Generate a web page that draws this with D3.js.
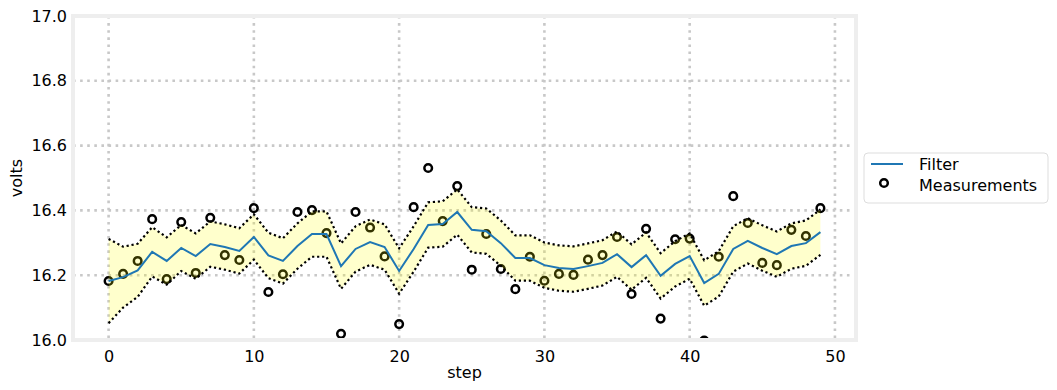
<!DOCTYPE html>
<html>
<head>
<meta charset="utf-8">
<script src="https://cdnjs.cloudflare.com/ajax/libs/d3/7.8.5/d3.min.js"></script>
<style>
    body { margin: 0; background: #fff; }
    text { font-family: "DejaVu Sans", sans-serif; fill: #000; }
</style>
</head>
<body>
<div id="chart"></div>
<script>
// measured voltage at each step
var measurements = [16.182, 16.204, 16.244, 16.373, 16.188, 16.364, 16.207, 16.377, 16.262, 16.247,
    16.407, 16.148, 16.203, 16.395, 16.401, 16.330, 16.019, 16.395, 16.347, 16.258,
    16.049, 16.410, 16.531, 16.367, 16.475, 16.217, 16.327, 16.219, 16.157, 16.257,
    16.183, 16.204, 16.201, 16.248, 16.262, 16.318, 16.142, 16.343, 16.066, 16.311,
    16.313, 15.998, 16.257, 16.444, 16.361, 16.238, 16.231, 16.340, 16.321, 16.407];
// filter estimate
var filterMean = [16.182, 16.194, 16.215, 16.272, 16.244, 16.284, 16.259, 16.296, 16.287, 16.275,
    16.318, 16.261, 16.244, 16.290, 16.327, 16.327, 16.228, 16.281, 16.302, 16.287,
    16.213, 16.281, 16.355, 16.358, 16.395, 16.340, 16.336, 16.299, 16.253, 16.253,
    16.231, 16.222, 16.219, 16.228, 16.238, 16.265, 16.225, 16.262, 16.198, 16.235,
    16.259, 16.176, 16.204, 16.281, 16.306, 16.284, 16.265, 16.290, 16.299, 16.333];
// standard deviation of the estimate
var filterStd = [0.130, 0.094, 0.082, 0.076, 0.073, 0.071, 0.070, 0.070, 0.070, 0.070,
    0.070, 0.070, 0.070, 0.070, 0.070, 0.070, 0.070, 0.070, 0.070, 0.070,
    0.070, 0.070, 0.070, 0.070, 0.070, 0.070, 0.070, 0.070, 0.070, 0.070,
    0.070, 0.070, 0.070, 0.070, 0.070, 0.070, 0.070, 0.070, 0.070, 0.070,
    0.070, 0.070, 0.070, 0.070, 0.070, 0.070, 0.070, 0.070, 0.070, 0.070];
var xTicks = [0, 10, 20, 30, 40, 50];
var yTicks = [16.0, 16.2, 16.4, 16.6, 16.8, 17.0];
var legendLabels = ["Filter", "Measurements"];

var width = 1057, height = 390;
var margin = { top: 16, right: 201, bottom: 50, left: 73 };
var plotW = width - margin.left - margin.right;
var plotH = height - margin.top - margin.bottom;
var fontSize = "16px";

var steps = measurements.map(function (d, i) { return i; });

var svg = d3.select("#chart").append("svg")
    .attr("width", width)
    .attr("height", height);

var xScale = d3.scaleLinear().domain([-2.45, 51.45]).range([0, plotW]);
var yScale = d3.scaleLinear().domain([16.0, 17.0]).range([plotH, 0]);

var chart = svg.append("g")
    .attr("transform", "translate(" + margin.left + "," + margin.top + ")");

// clip to plot area
chart.append("clipPath").attr("id", "clip")
    .append("rect").attr("width", plotW).attr("height", plotH);

// grid
var grid = chart.append("g").attr("class", "grid");
grid.selectAll(".gx").data(xTicks).enter().append("line")
    .attr("x1", function (d) { return xScale(d); })
    .attr("x2", function (d) { return xScale(d); })
    .attr("y1", 0).attr("y2", plotH);
grid.selectAll(".gy").data(yTicks).enter().append("line")
    .attr("y1", function (d) { return yScale(d); })
    .attr("y2", function (d) { return yScale(d); })
    .attr("x1", 0).attr("x2", plotW);
grid.selectAll("line")
    .attr("stroke", "#c8c8c8")
    .attr("stroke-width", 2.6)
    .attr("stroke-dasharray", "2.6 4.5");

var plot = chart.append("g").attr("clip-path", "url(#clip)");

// measurements
plot.selectAll(".meas").data(measurements).enter().append("circle")
    .attr("class", "meas")
    .attr("cx", function (d, i) { return xScale(i); })
    .attr("cy", function (d) { return yScale(d); })
    .attr("r", 3.8)
    .attr("fill", "none")
    .attr("stroke", "#000")
    .attr("stroke-width", 2.5);

// variance band
var area = d3.area()
    .x(function (d) { return xScale(d); })
    .y0(function (d) { return yScale(filterMean[d] - filterStd[d]); })
    .y1(function (d) { return yScale(filterMean[d] + filterStd[d]); });
plot.append("path").datum(steps)
    .attr("d", area)
    .attr("fill", "yellow")
    .attr("fill-opacity", 0.2);

var upper = d3.line()
    .x(function (d) { return xScale(d); })
    .y(function (d) { return yScale(filterMean[d] + filterStd[d]); });
var lower = d3.line()
    .x(function (d) { return xScale(d); })
    .y(function (d) { return yScale(filterMean[d] - filterStd[d]); });
[upper, lower].forEach(function (gen) {
    plot.append("path").datum(steps)
        .attr("d", gen)
        .attr("fill", "none")
        .attr("stroke", "#000")
        .attr("stroke-width", 2.2)
        .attr("stroke-dasharray", "2.2 2.8");
});

// filter line
var line = d3.line()
    .x(function (d, i) { return xScale(i); })
    .y(function (d) { return yScale(d); });
plot.append("path").datum(filterMean)
    .attr("d", line)
    .attr("fill", "none")
    .attr("stroke", "#1f77b4")
    .attr("stroke-width", 2);

// frame
chart.append("rect")
    .attr("width", plotW).attr("height", plotH)
    .attr("fill", "none")
    .attr("stroke", "#eeeeee")
    .attr("stroke-width", 4);

// axes (no tick marks)
var xAxis = chart.append("g")
    .attr("transform", "translate(0," + plotH + ")")
    .call(d3.axisBottom(xScale).tickValues(xTicks).tickSize(0).tickPadding(11));
var yAxis = chart.append("g")
    .call(d3.axisLeft(yScale).tickValues(yTicks).tickSize(0).tickPadding(6)
        .tickFormat(d3.format(".1f")));
[xAxis, yAxis].forEach(function (a) {
    a.select(".domain").remove();
    a.selectAll("text").style("font-size", fontSize)
        .style("font-family", "DejaVu Sans, sans-serif").attr("fill", "#000");
});

// axis labels
svg.append("text")
    .attr("x", margin.left + plotW / 2).attr("y", 378)
    .attr("text-anchor", "middle")
    .style("font-size", fontSize)
    .text("step");
svg.append("text")
    .attr("transform", "translate(22," + (margin.top + plotH / 2) + ") rotate(-90)")
    .attr("text-anchor", "middle")
    .style("font-size", fontSize)
    .text("volts");

// legend
var legend = svg.append("g").attr("transform", "translate(864,153)");
legend.append("rect")
    .attr("width", 184).attr("height", 50)
    .attr("rx", 4)
    .attr("fill", "#fff")
    .attr("stroke", "#dddddd")
    .attr("stroke-width", 1);
legend.append("line")
    .attr("x1", 7).attr("x2", 39).attr("y1", 11).attr("y2", 11)
    .attr("stroke", "#1f77b4").attr("stroke-width", 2);
legend.append("circle")
    .attr("cx", 20).attr("cy", 30).attr("r", 3.8)
    .attr("fill", "none").attr("stroke", "#000").attr("stroke-width", 2.5);
legend.selectAll(".lbl").data(legendLabels).enter().append("text")
    .attr("x", 55)
    .attr("y", function (d, i) { return 17 + i * 21; })
    .style("font-size", fontSize)
    .text(function (d) { return d; });
</script>
</body>
</html>
